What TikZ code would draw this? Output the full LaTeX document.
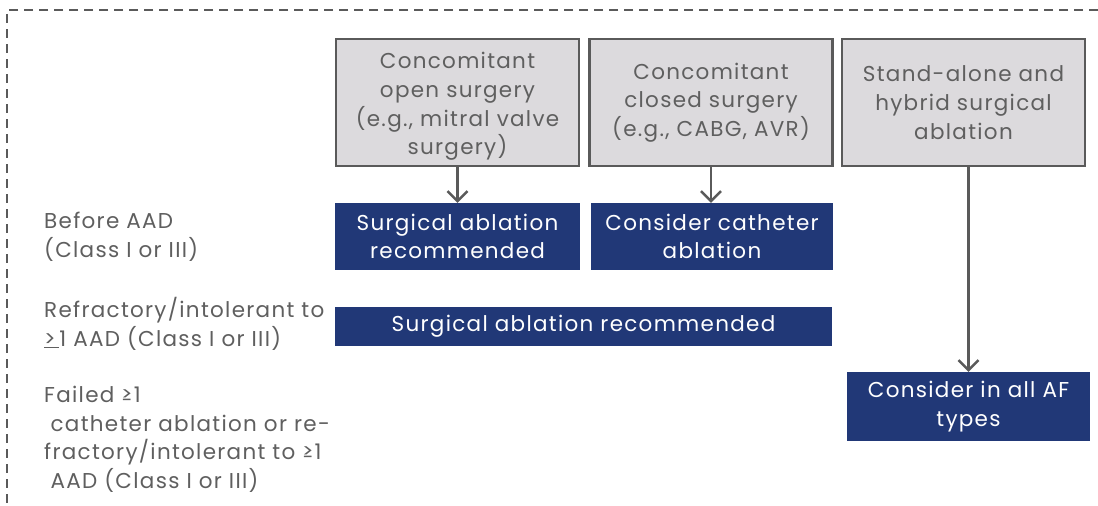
\documentclass[tikz,border=0pt]{standalone}
\usepackage{fontspec}
\setmainfont{Poppins}[LetterSpace=6]
\usetikzlibrary{arrows.meta}
\definecolor{txtgray}{HTML}{5F5F5F}
\definecolor{boxgray}{HTML}{DCDADD}
\definecolor{linegray}{HTML}{5A5A5A}
\definecolor{navy}{HTML}{213877}
\begin{document}
\begin{tikzpicture}[x=1pt,y=-1pt,
  lbl/.style={font=\fontsize{21.5}{28.7}\selectfont, text=txtgray, align=left, anchor=north west, inner sep=0pt},
  graybox/.style={draw=linegray, line width=2.5pt, fill=boxgray, text=txtgray, align=center,
     font=\fontsize{21.5}{28.7}\selectfont, inner sep=0pt, minimum width=243pt, minimum height=127pt},
  bluebox/.style={fill=navy, text=white, align=center, font=\fontsize{21.5}{28.7}\selectfont, inner sep=0pt},
  arr/.style={draw=linegray, line width=2.5pt, -{Straight Barb[length=10pt,width=20pt,line width=2.5pt]}},
  dashline/.style={draw=linegray, line width=2.5pt, dash pattern=on 9pt off 6pt}]
\useasboundingbox (0,0) rectangle (1098,506);
\draw[dashline] (1098,10) -- (7,10) -- (7,506);
\node[graybox] (g1) at (457.5,102.5) {\rule{0pt}{4pt}\\[-8pt]Concomitant\\open surgery\\(e.g., mitral valve\\surgery)};
\node[graybox] (g2) at (711,102.5) {Concomitant\\closed surgery\\(e.g., CABG, AVR)};
\node[graybox] (g3) at (963.5,102.5) {Stand-alone and\\hybrid surgical\\ablation};
\node[bluebox, minimum width=245pt, minimum height=67pt] (b1) at (457.5,236.5) {Surgical ablation\\recommended};
\node[bluebox, minimum width=242pt, minimum height=67pt] (b2) at (712,236.5) {Consider catheter\\ablation};
\node[bluebox, minimum width=497pt, minimum height=39pt] (b3) at (583.5,326.5) {Surgical ablation recommended};
\node[bluebox, minimum width=243pt, minimum height=69pt] (b4) at (968.5,406.5) {Consider in all AF\\types};
\draw[arr] (g1.south) -- (b1.north);
\draw[arr] (g2.south) -- (g2.south |- b2.north);
\draw[arr] (g3.south -| b4.north) -- (b4.north);
\node[lbl] (l1) at (44,212) {Before AAD\\(Class I or III)};
\node[lbl] (l2) at (44,297) {Refractory/intolerant to\\\underline{>\,}1 AAD (Class I or III)};
\node[lbl] (l3) at (44,386) {Failed ≥1\\\hspace{0.3em}catheter ablation or re-\\fractory/intolerant to ≥1\\\hspace{0.3em}AAD (Class I or III)};
\end{tikzpicture}
\end{document}
